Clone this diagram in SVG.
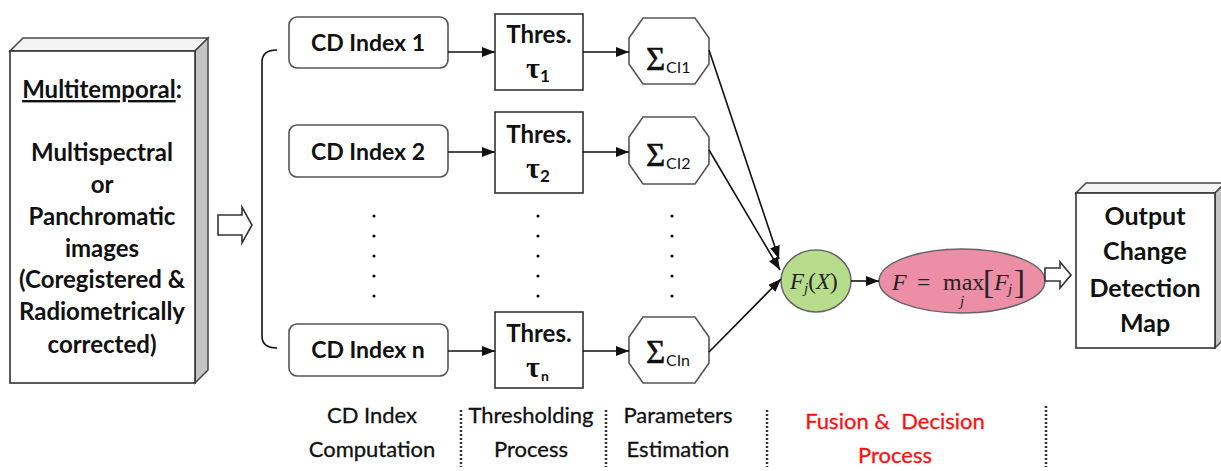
<svg xmlns="http://www.w3.org/2000/svg" width="1221" height="471" viewBox="0 0 1221 471">
<style>
.bx{fill:#fff;stroke:#333;stroke-width:1.6}
.rr{fill:#fff;stroke:#555;stroke-width:1.6}
.side{fill:#c4c4c4;stroke:#444;stroke-width:1.5}
.top{fill:#f4f4f4;stroke:#444;stroke-width:1.5}
.t{font-family:Lato,"Open Sans",sans-serif;font-weight:bold;fill:#111;text-anchor:middle}
.lb{font-family:Lato,"Open Sans",sans-serif;font-size:22px;fill:#111;text-anchor:middle;stroke:#111;stroke-width:0.3}
.ser{font-family:"Liberation Serif","DejaVu Serif",serif;fill:#222}
.sig{font-family:"Liberation Serif","DejaVu Serif",serif;fill:#111;font-size:33px;stroke:#111;stroke-width:0.6}
.tau{font-family:"Liberation Serif","DejaVu Serif",serif;fill:#111;font-size:30px;font-weight:bold;text-anchor:middle}
.sub{font-family:Lato,"Open Sans",sans-serif;font-size:16px;fill:#111}
.ln{stroke:#111;stroke-width:1.6;fill:none}
.sep{stroke:#333;stroke-width:2.5;stroke-dasharray:2 2;fill:none}
.hol{fill:#fff;stroke:#333;stroke-width:1.6}
.dot{fill:#111}
</style>
<defs>
<marker id="ah" markerUnits="userSpaceOnUse" markerWidth="13" markerHeight="10" refX="13" refY="5" orient="auto">
<path d="M0,0 L13,5 L0,10 z" fill="#111"/>
</marker>
</defs>

<g id="input">
<polygon class="top" points="10,51 23,38 208,38 195,51"/>
<polygon class="side" points="195,51 208,38 208,370 195,383"/>
<rect class="bx" x="10" y="51" width="185" height="332"/>
<text class="t" font-size="24"><tspan x="102" y="98"><tspan text-decoration="underline">Multitemporal</tspan>:</tspan><tspan x="102" y="161">Multispectral</tspan><tspan x="102" y="193">or</tspan><tspan x="102" y="225">Panchromatic</tspan><tspan x="102" y="257">images</tspan><tspan x="102" y="288">(Coregistered &amp;</tspan><tspan x="102" y="320">Radiometrically</tspan><tspan x="102" y="353">corrected)</tspan></text>
</g>

<g id="cd1"><rect class="rr" x="289" y="17" width="159" height="51" rx="8"/><text class="t" font-size="23" x="368" y="51">CD Index 1</text></g>
<g id="cd2"><rect class="rr" x="289" y="125" width="159" height="52" rx="8"/><text class="t" font-size="23" x="368" y="160">CD Index 2</text></g>
<g id="cdn"><rect class="rr" x="289" y="324" width="159" height="52" rx="8"/><text class="t" font-size="23" x="368" y="358">CD Index n</text></g>

<g id="th1"><rect class="bx" x="495" y="14" width="88" height="76"/><text class="t" font-size="24" x="539" y="43">Thres.</text><text x="533" y="78" class="tau">τ</text><text x="545" y="82" class="t" font-size="17">1</text></g>
<g id="th2"><rect class="bx" x="495" y="112" width="88" height="81"/><text class="t" font-size="24" x="539" y="143">Thres.</text><text x="533" y="178" class="tau">τ</text><text x="545" y="182" class="t" font-size="17">2</text></g>
<g id="thn"><rect class="bx" x="495" y="312" width="88" height="76"/><text class="t" font-size="24" x="539" y="342">Thres.</text><text x="533" y="377" class="tau">τ</text><text x="545" y="381" class="t" font-size="14">n</text></g>

<g id="p1"><polygon class="rr" points="643,18 695,18 709,38 709,64 695,84 643,84 629,64 629,38"/><text x="646" y="70" class="sig">Σ</text><text x="666" y="73" class="sub">CI1</text></g>
<g id="p2"><polygon class="rr" points="643,117 695,117 709,137 709,164 695,184 643,184 629,164 629,137"/><text x="646" y="166" class="sig">Σ</text><text x="666" y="169" class="sub">CI2</text></g>
<g id="pn"><polygon class="rr" points="643,317 695,317 709,337 709,363 695,383 643,383 629,363 629,337"/><text x="646" y="363" class="sig">Σ</text><text x="666" y="366" class="sub">CIn</text></g>

<g id="dots">
<circle class="dot" cx="374" cy="216" r="1.6"/><circle class="dot" cx="374" cy="236" r="1.6"/><circle class="dot" cx="374" cy="256" r="1.6"/><circle class="dot" cx="374" cy="276" r="1.6"/><circle class="dot" cx="374" cy="296" r="1.6"/>
<circle class="dot" cx="538" cy="216" r="1.6"/><circle class="dot" cx="538" cy="236" r="1.6"/><circle class="dot" cx="538" cy="256" r="1.6"/><circle class="dot" cx="538" cy="276" r="1.6"/><circle class="dot" cx="538" cy="296" r="1.6"/>
<circle class="dot" cx="672" cy="216" r="1.6"/><circle class="dot" cx="672" cy="236" r="1.6"/><circle class="dot" cx="672" cy="256" r="1.6"/><circle class="dot" cx="672" cy="276" r="1.6"/><circle class="dot" cx="672" cy="296" r="1.6"/>
</g>

<g id="fusion"><ellipse cx="816" cy="281" rx="35" ry="31" fill="#b6dc8c" stroke="#666" stroke-width="1.5"/>
<text class="ser" font-size="23" y="289"><tspan x="790" font-style="italic">F</tspan><tspan font-style="italic" font-size="15" dy="4">j</tspan><tspan dy="-4">(</tspan><tspan font-style="italic">X</tspan><tspan>)</tspan></text></g>

<g id="decision"><ellipse cx="962" cy="281" rx="83" ry="32" fill="#ec8ea6" stroke="#666" stroke-width="1.5"/>
<text class="ser" font-size="24" y="290"><tspan x="892" font-style="italic">F</tspan><tspan x="917">=</tspan><tspan x="943">max</tspan></text>
<text class="ser" font-size="15" font-style="italic" x="960" y="306">j</text>
<text class="ser" font-size="33" x="983" y="293">[</text>
<text class="ser" font-size="24" font-style="italic" x="994" y="290">F</text>
<text class="ser" font-size="15" font-style="italic" x="1008" y="294">j</text>
<text class="ser" font-size="33" x="1014" y="293">]</text>
</g>

<g id="output">
<polygon class="top" points="1076,193 1086,183 1225,183 1215,193"/>
<polygon class="side" points="1215,193 1225,183 1225,338 1215,348"/>
<rect class="bx" x="1076" y="193" width="139" height="155"/>
<text class="t" font-size="25"><tspan x="1145" y="225">Output</tspan><tspan x="1145" y="260">Change</tspan><tspan x="1145" y="297">Detection</tspan><tspan x="1145" y="332">Map</tspan></text>
</g>

<g id="connectors">
<path class="ln" d="M277,50 Q262,50 262,62 L262,336 Q262,348 277,348"/>
<polygon class="hol" points="218,215 242,215 242,207 252,225 242,243 242,235 218,235"/>
<line class="ln" x1="448" y1="52" x2="495" y2="52" marker-end="url(#ah)"/>
<line class="ln" x1="448" y1="152" x2="495" y2="152" marker-end="url(#ah)"/>
<line class="ln" x1="448" y1="351" x2="495" y2="351" marker-end="url(#ah)"/>
<line class="ln" x1="583" y1="52" x2="629" y2="52" marker-end="url(#ah)"/>
<line class="ln" x1="583" y1="152" x2="629" y2="152" marker-end="url(#ah)"/>
<line class="ln" x1="583" y1="351" x2="629" y2="351" marker-end="url(#ah)"/>
<line class="ln" x1="709" y1="50" x2="779" y2="259" marker-end="url(#ah)"/>
<line class="ln" x1="709" y1="150" x2="780" y2="270" marker-end="url(#ah)"/>
<line class="ln" x1="709" y1="352" x2="781" y2="279" marker-end="url(#ah)"/>
<line class="ln" x1="851" y1="281" x2="879" y2="281" marker-end="url(#ah)"/>
<polygon class="hol" points="1045,268 1060,268 1060,262 1071,275 1060,288 1060,281 1045,281"/>
</g>

<g id="labels">
<path class="sep" d="M461,410 V467 M606,410 V467 M767,410 V467 M1046,406 V467"/>
<text class="lb"><tspan x="372" y="423">CD Index</tspan><tspan x="372" y="457">Computation</tspan></text>
<text class="lb"><tspan x="531" y="423">Thresholding</tspan><tspan x="531" y="457">Process</tspan></text>
<text class="lb"><tspan x="678" y="423">Parameters</tspan><tspan x="678" y="457">Estimation</tspan></text>
<text class="lb" style="fill:#ff1010;stroke:#ff1010" font-size="21"><tspan x="895" y="429">Fusion &amp;&#160; Decision</tspan><tspan x="895" y="463">Process</tspan></text>
</g>
</svg>
